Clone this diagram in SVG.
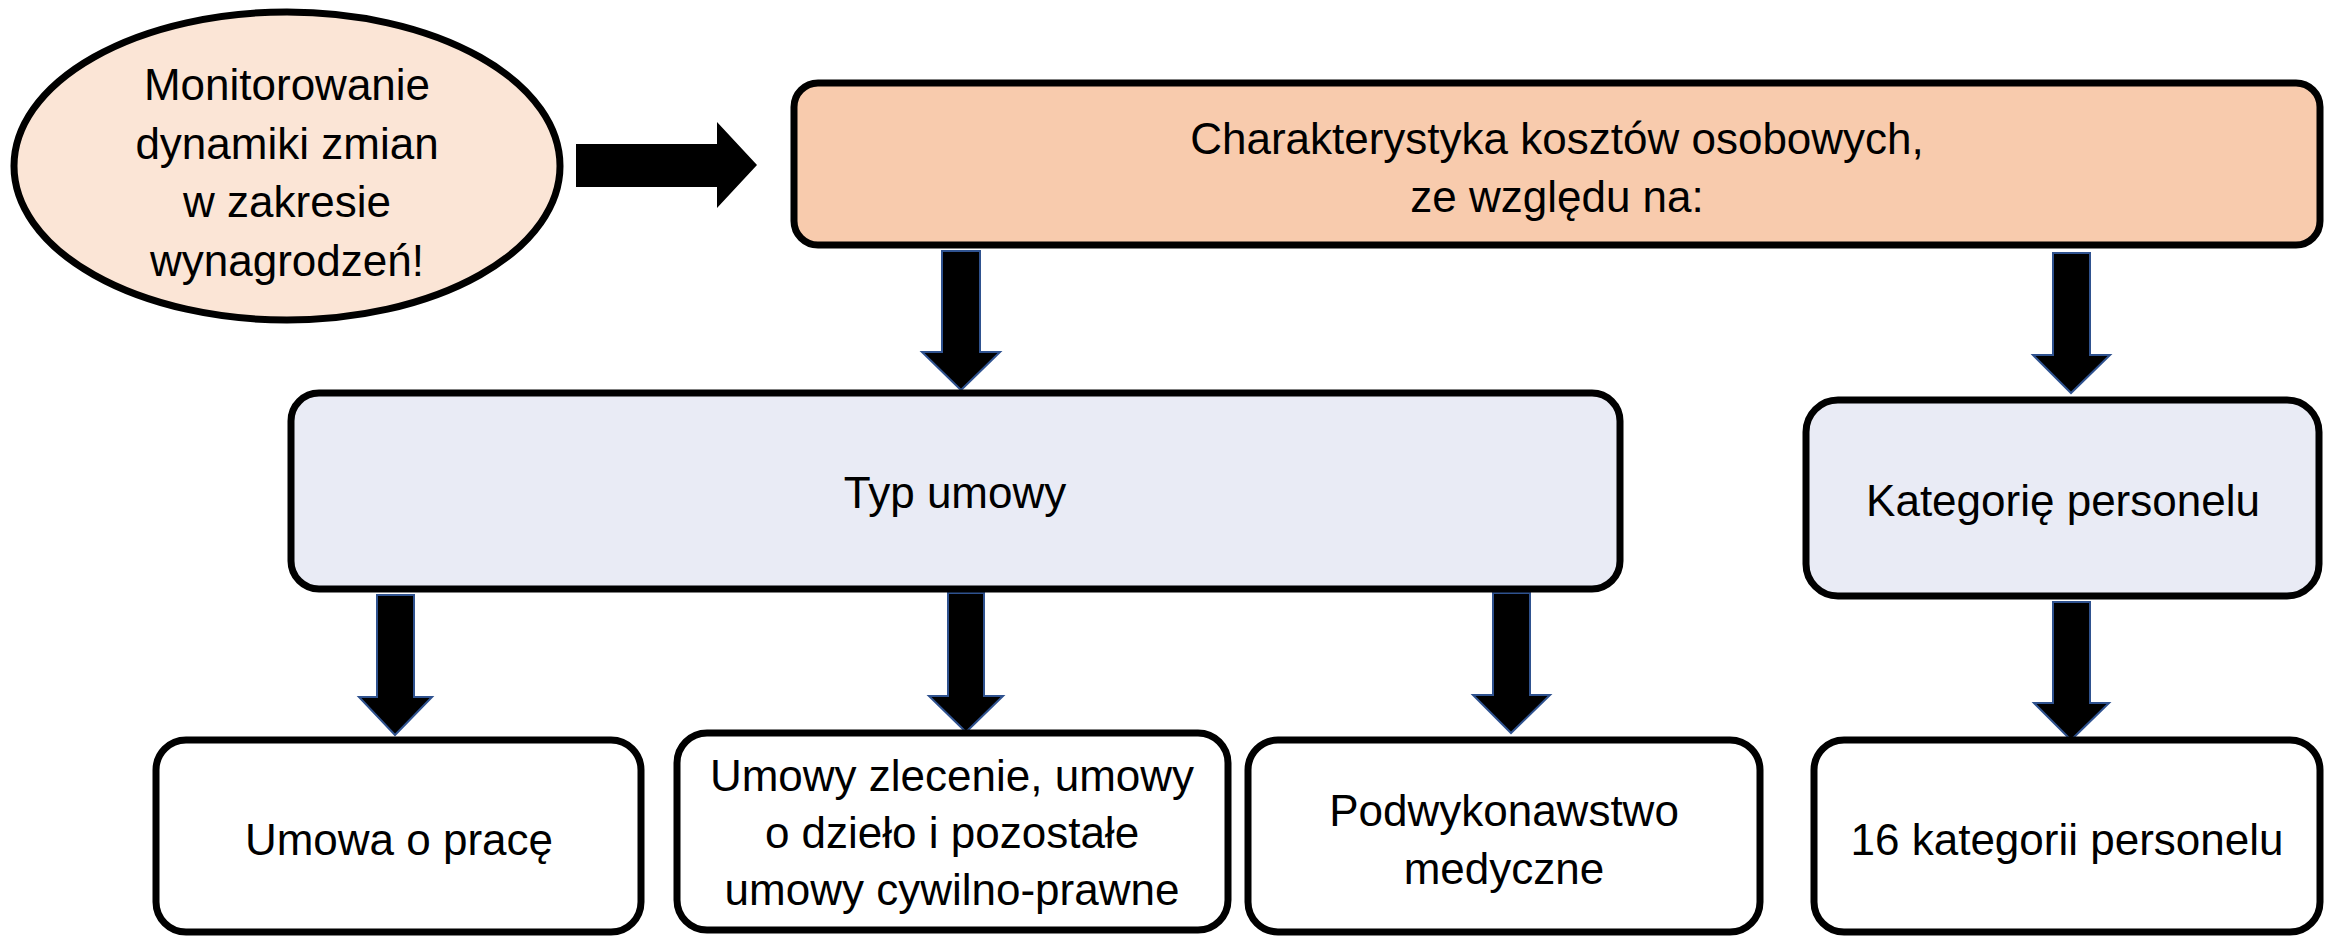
<svg xmlns="http://www.w3.org/2000/svg" width="2328" height="937" viewBox="0 0 2328 937">
<style>
.t{font-family:"Liberation Sans",Arial,sans-serif;font-size:44px;fill:#000;text-anchor:middle}
.box{stroke:#000;stroke-width:7}
.arr{fill:#000;stroke:#2F528F;stroke-width:2;stroke-linejoin:miter}
</style>
<rect width="2328" height="937" fill="#fff"/>
<g id="connectors">
<polygon fill="#000" points="576,144 717,144 717,122 757,165 717,208 717,187 576,187"/>
<polygon class="arr" points="942,251 980,251 980,352 1000,352 961,390 922,352 942,352"/>
<polygon class="arr" points="2053,253 2090,253 2090,355 2110,355 2071,393 2033,355 2053,355"/>
<polygon class="arr" points="377,595 414,595 414,697 432,697 395,735 359,697 377,697"/>
<polygon class="arr" points="948,593 984,593 984,696 1003,696 966,732 929,696 948,696"/>
<polygon class="arr" points="1493,593 1530,593 1530,695 1550,695 1511,733 1473,695 1493,695"/>
<polygon class="arr" points="2053,602 2090,602 2090,703 2109,703 2071,740 2034,703 2053,703"/>
</g>
<g id="monitorowanie">
<ellipse class="box" cx="287" cy="166" rx="273" ry="154" fill="#FBE5D6"/>
<text class="t" x="287" y="100">Monitorowanie</text>
<text class="t" x="287" y="159">dynamiki zmian</text>
<text class="t" x="287" y="217">w zakresie</text>
<text class="t" x="287" y="276">wynagrodzeń!</text>
</g>
<g id="charakterystyka">
<rect class="box" x="794" y="83" width="1526" height="162" rx="24" fill="#F8CBAD"/>
<text class="t" x="1557" y="154">Charakterystyka kosztów osobowych,</text>
<text class="t" x="1557" y="212">ze względu na:</text>
</g>
<g id="typ-umowy">
<rect class="box" x="291" y="393" width="1329" height="196" rx="28" fill="#E9EBF5"/>
<text class="t" x="955" y="508">Typ umowy</text>
</g>
<g id="kategorie">
<rect class="box" x="1806" y="400" width="513" height="196" rx="32" fill="#E9EBF5"/>
<text class="t" x="2063" y="516">Kategorię personelu</text>
</g>
<g id="umowa-o-prace">
<rect class="box" x="156" y="740" width="485" height="192" rx="30" fill="#fff"/>
<text class="t" x="399" y="855">Umowa o pracę</text>
</g>
<g id="umowy-zlecenie">
<rect class="box" x="677" y="733" width="551" height="197" rx="30" fill="#fff"/>
<text class="t" x="952" y="791">Umowy zlecenie, umowy</text>
<text class="t" x="952" y="848">o dzieło i pozostałe</text>
<text class="t" x="952" y="905">umowy cywilno-prawne</text>
</g>
<g id="podwykonawstwo">
<rect class="box" x="1248" y="740" width="512" height="192" rx="30" fill="#fff"/>
<text class="t" x="1504" y="826">Podwykonawstwo</text>
<text class="t" x="1504" y="884">medyczne</text>
</g>
<g id="kategorii-16">
<rect class="box" x="1814" y="740" width="506" height="192" rx="30" fill="#fff"/>
<text class="t" x="2067" y="855">16 kategorii personelu</text>
</g>
</svg>
